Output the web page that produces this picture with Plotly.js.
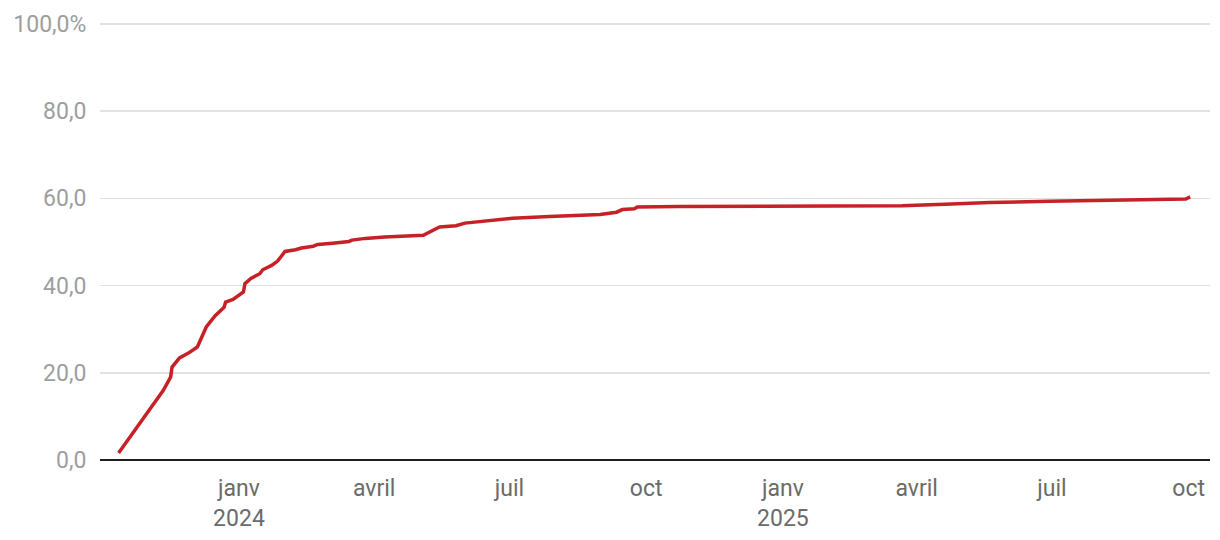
<!DOCTYPE html>
<html>
<head>
<meta charset="utf-8">
<script src="https://cdn.plot.ly/plotly-3.0.1.min.js"></script>
<style>html,body{margin:0;padding:0;background:#fff;}#chart{width:1220px;height:540px;}</style>
</head>
<body>
<div id="chart"></div>
<script>
const dates = [
  '2023-10-12','2023-10-23','2023-10-29','2023-11-04','2023-11-11','2023-11-16','2023-11-17',
  '2023-11-22','2023-11-28','2023-12-04','2023-12-10','2023-12-16','2023-12-22','2023-12-23',
  '2023-12-28','2024-01-04','2024-01-05','2024-01-09','2024-01-15','2024-01-17','2024-01-23',
  '2024-01-27','2024-02-01','2024-02-08','2024-02-12','2024-02-20','2024-02-23','2024-03-04',
  '2024-03-15','2024-03-17','2024-03-26','2024-04-08','2024-05-04','2024-05-15','2024-05-26',
  '2024-06-01','2024-06-10','2024-07-03','2024-07-28','2024-08-31','2024-09-11','2024-09-15',
  '2024-09-23','2024-09-25','2024-10-23','2025-01-01','2025-03-22','2025-04-20','2025-05-20',
  '2025-06-29','2025-08-12','2025-08-19','2025-09-25','2025-09-29','2025-10-02'
];
const values = [
  1.6, 6.8, 9.8, 12.5, 15.9, 19.0, 21.3,
  23.4, 24.5, 25.9, 30.5, 33.1, 35.0, 36.2,
  36.8, 38.5, 40.4, 41.6, 42.7, 43.6, 44.6,
  45.6, 47.8, 48.2, 48.6, 49.0, 49.4, 49.7,
  50.1, 50.4, 50.8, 51.1, 51.5, 53.4, 53.7,
  54.3, 54.6, 55.4, 55.8, 56.3, 56.8, 57.4,
  57.6, 58.0, 58.1, 58.15, 58.3, 58.6, 59.0,
  59.3, 59.45, 59.6, 59.7, 59.8, 60.3
];
const xTickVals = ['2024-01-01','2024-04-01','2024-07-01','2024-10-01','2025-01-01','2025-04-01','2025-07-01','2025-10-01'];
const xTickText = ['janv<br>2024','avril','juil','oct','janv<br>2025','avril','juil','oct'];
const yTickVals = [0, 20, 40, 60, 80, 100];
const yTickText = ['0,0','20,0','40,0','60,0','80,0','100,0%'];

Plotly.newPlot('chart', [{
  x: dates, y: values, type: 'scatter', mode: 'lines',
  line: {color: '#c62126', width: 3.5},
  hoverinfo: 'skip'
}], {
  width: 1220, height: 540,
  margin: {l: 100, r: 10, t: 22, b: 80},
  paper_bgcolor: '#fff', plot_bgcolor: '#fff',
  font: {family: 'Roboto, sans-serif'},
  showlegend: false,
  xaxis: {
    type: 'date',
    range: ['2023-09-29 12:00', '2025-10-15 08:00'],
    tickmode: 'array', tickvals: xTickVals, ticktext: xTickText,
    showgrid: false, zeroline: false, showline: false,
    ticks: 'outside', ticklen: 7, tickcolor: 'rgba(0,0,0,0)',
    tickfont: {size: 23, color: '#6b6b6b', family: 'Roboto, sans-serif'}
  },
  yaxis: {
    range: [0, 100.4],
    tickmode: 'array', tickvals: yTickVals, ticktext: yTickText,
    showgrid: true, gridcolor: '#e2e2e2', gridwidth: 1.5,
    zeroline: true, zerolinecolor: '#1e1e1e', zerolinewidth: 2,
    showline: false,
    ticks: 'outside', ticklen: 8, tickcolor: 'rgba(0,0,0,0)',
    tickfont: {size: 23, color: '#9e9e9e', family: 'Roboto, sans-serif'}
  }
}, {displayModeBar: false, staticPlot: true});
</script>
</body>
</html>
